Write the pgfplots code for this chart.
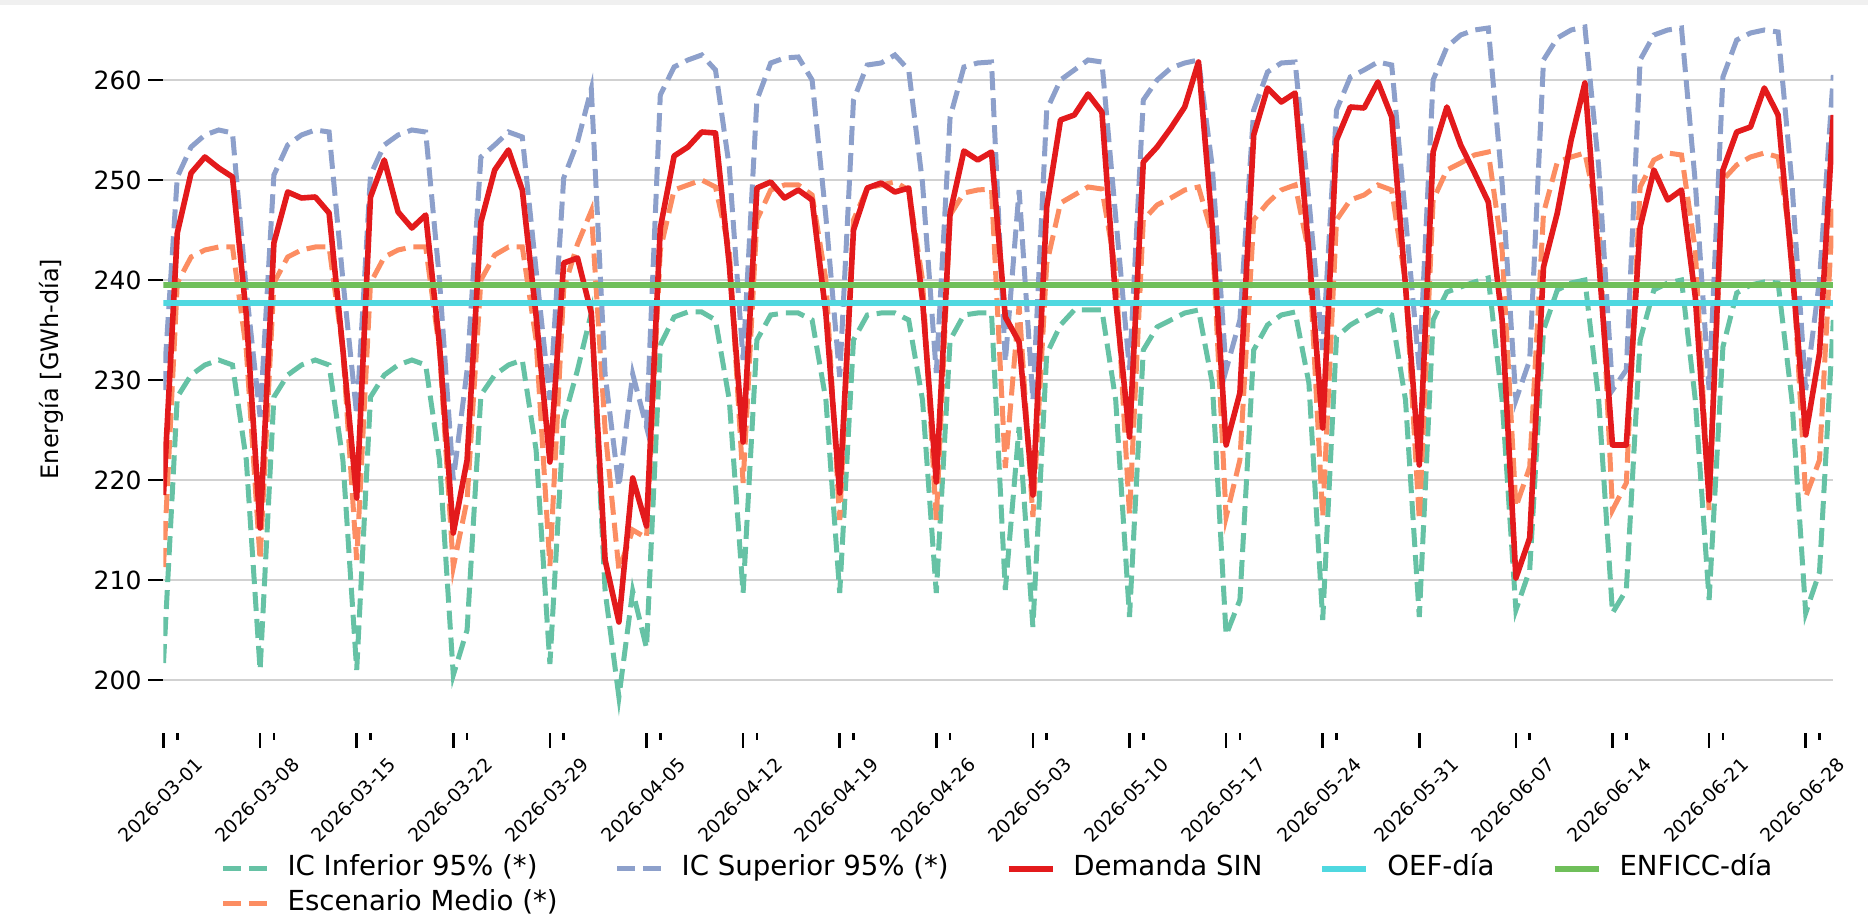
\documentclass[border=0pt]{standalone}
\usepackage{fontspec}
\setmainfont{DejaVu Sans}
\usepackage{pgfplots}
\usepackage{pgfplotstable}
\pgfplotsset{compat=1.18}

\definecolor{icinf}{HTML}{66C2A5}
\definecolor{medio}{HTML}{FC8D62}
\definecolor{icsup}{HTML}{8DA0CB}
\definecolor{demanda}{HTML}{E31A1C}
\definecolor{oef}{HTML}{4FD8E0}
\definecolor{enficc}{HTML}{6FBF5A}

% day = days since 2026-03-01
\pgfplotstableread{
day inf med sup dem
0 201.7 211.3 229.0 218.5
1 228.3 239.7 250.3 244.7
2 230.5 242.3 253.3 250.7
3 231.5 243.0 254.5 252.3
4 232.0 243.3 255.0 251.2
5 231.5 243.3 254.7 250.3
6 222.0 233.0 239.0 236.5
7 201.0 212.0 226.3 215.2
8 228.3 239.7 250.5 243.7
9 230.5 242.3 253.5 248.8
10 231.5 243.0 254.5 248.2
11 232.0 243.3 255.0 248.3
12 231.5 243.3 254.8 246.7
13 222.0 233.0 240.0 233.0
14 201.0 212.0 226.5 218.2
15 228.3 239.7 250.5 248.3
16 230.5 242.3 253.5 252.0
17 231.5 243.0 254.5 246.8
18 232.0 243.3 255.0 245.2
19 231.5 243.3 254.8 246.5
20 222.0 233.0 240.0 233.5
21 200.5 211.3 220.0 214.7
22 205.0 218.0 231.0 222.0
23 228.5 240.0 252.3 245.8
24 230.5 242.5 253.5 251.0
25 231.5 243.3 254.8 253.0
26 232.0 243.3 254.3 249.0
27 223.0 234.0 241.0 236.4
28 201.6 211.4 228.0 221.8
29 226.0 239.1 250.2 241.7
30 231.0 243.6 253.8 242.2
31 236.7 246.9 259.1 236.7
32 208.9 225.0 230.6 212.0
33 198.3 211.0 219.3 205.8
34 208.9 215.0 230.6 220.2
35 203.2 214.2 225.3 215.4
36 233.5 243.0 258.5 245.2
37 236.3 249.0 261.3 252.4
38 236.8 249.5 262.0 253.3
39 236.8 250.0 262.5 254.8
40 236.0 249.3 261.0 254.7
41 228.0 243.0 251.3 241.5
42 208.7 219.7 232.0 223.8
43 234.0 246.0 258.0 249.2
44 236.5 249.0 261.7 249.8
45 236.7 249.5 262.2 248.2
46 236.7 249.5 262.3 249.0
47 236.0 248.5 260.0 248.0
48 228.0 240.0 246.3 236.6
49 208.7 216.0 230.3 218.7
50 234.0 246.0 258.0 245.0
51 236.5 249.2 261.5 249.2
52 236.7 249.5 261.7 249.7
53 236.7 249.8 262.5 248.8
54 236.0 249.0 261.0 249.2
55 228.0 240.0 249.7 238.0
56 208.7 216.0 230.7 219.8
57 234.0 246.5 256.3 246.7
58 236.5 248.7 261.3 252.9
59 236.7 249.0 261.7 252.0
60 236.7 249.1 261.8 252.8
61 209.0 221.2 231.8 236.3
62 225.3 237.5 249.0 233.8
63 205.3 216.3 228.0 218.5
64 232.6 241.6 257.0 247.3
65 235.5 247.7 260.0 256.0
66 237.0 248.5 261.0 256.5
67 237.0 249.3 262.0 258.6
68 237.0 249.1 261.8 256.8
69 228.0 241.0 246.3 238.0
70 206.3 216.5 231.0 224.3
71 233.0 246.0 258.0 251.8
72 235.3 247.5 260.0 253.3
73 236.0 248.2 261.2 255.2
74 236.7 249.0 261.7 257.3
75 237.0 249.3 262.0 261.8
76 229.7 244.5 251.3 245.3
77 204.5 216.3 231.0 223.5
78 208.0 222.0 236.0 228.7
79 233.0 246.0 257.0 254.5
80 235.5 247.7 260.8 259.2
81 236.5 249.0 261.7 257.8
82 236.8 249.5 261.8 258.7
83 229.7 242.7 248.0 242.8
84 206.0 216.3 233.0 225.2
85 234.3 246.0 257.0 254.0
86 235.5 248.0 260.3 257.3
87 236.3 248.5 261.0 257.2
88 237.0 249.5 261.8 259.8
89 236.5 249.0 261.5 256.3
90 228.0 239.7 246.3 239.4
91 206.3 216.0 231.0 221.5
92 236.0 248.0 260.0 252.8
93 238.8 251.0 263.3 257.3
94 239.3 251.7 264.5 253.5
95 239.8 252.5 265.0 250.7
96 240.2 252.8 265.2 247.8
97 228.0 243.0 249.7 236.0
98 207.0 217.3 228.0 210.2
99 211.0 221.3 232.0 214.2
100 235.0 246.7 262.0 241.3
101 239.0 251.8 264.2 246.7
102 239.7 252.3 265.0 254.0
103 240.0 252.7 265.3 259.7
104 228.0 246.0 251.3 242.0
105 206.7 217.0 229.0 223.5
106 209.0 219.7 231.0 223.5
107 234.0 249.3 262.0 245.3
108 239.0 252.0 264.5 251.0
109 239.7 252.7 265.0 248.0
110 240.0 252.5 265.2 249.0
111 228.0 243.0 249.7 238.3
112 208.0 217.0 229.0 218.0
113 233.3 250.0 260.3 251.0
114 238.7 251.5 264.0 254.8
115 239.5 252.3 264.7 255.3
116 239.8 252.7 265.0 259.2
117 239.7 252.3 264.8 256.5
118 228.0 243.0 249.7 241.3
119 206.7 218.3 229.0 224.5
120 210.8 222.0 240.0 232.7
121 236.0 248.0 260.5 256.5
}\datos

\begin{document}
\begin{tikzpicture}
\begin{axis}[
  name=ax,
  scale only axis,
  width=834.9pt, height=364pt,
  xmin=0, xmax=121, ymin=194.7, ymax=267.5,
  axis x line*=bottom, axis y line*=left,
  axis line style={draw=none},
  tick align=outside,
  major tick length=7.5pt,
  minor tick length=3.5pt,
  every tick/.style={black, line width=1.3pt},
  xtick={0,7,...,119},
  minor xtick={1,8,15,22,29,36,43,50,57,64,71,78,85,99,106,113,120},
  xticklabels={2026-03-01,2026-03-08,2026-03-15,2026-03-22,2026-03-29,2026-04-05,
    2026-04-12,2026-04-19,2026-04-26,2026-05-03,2026-05-10,2026-05-17,2026-05-24,
    2026-05-31,2026-06-07,2026-06-14,2026-06-21,2026-06-28},
  xticklabel style={font=\fontsize{9.4pt}{11pt}\selectfont, anchor=center,
    xshift=-1.5pt, rotate=45},
  xticklabel shift=26pt,
  ytick={200,210,...,260},
  yticklabel style={font=\fontsize{12.5pt}{15pt}\selectfont},
  /pgf/number format/assume math mode=true,
  ymajorgrids,
  major grid style={draw=black!18, line width=0.75pt},
  ylabel={Energía [GWh-día]},
  every axis y label/.style={at={(axis description cs:-0.0671,0.5)}, rotate=90, anchor=center,
    font=\fontsize{12pt}{14pt}\selectfont},
  legend columns=5,
  legend cell align=left,
  legend style={draw=none, fill=none, at={(0.5,-0.157)}, anchor=north,
    font=\fontsize{13.8pt}{16pt}\selectfont,
    nodes={text height=10pt, text depth=3.2pt, inner sep=2pt},
    /tikz/every even column/.append style={column sep=26.5pt},
    /tikz/every odd column/.append style={column sep=7pt},
    row sep=0pt},
  legend image code/.code={\draw[#1] (0pt,0pt) -- (22pt,0pt);},
  dashed band/.style={line width=2.5pt, dash pattern=on 9.5pt off 4pt},
]
\addplot[icinf, dashed band, forget plot] table[x=day, y=inf] {\datos};
\addplot[medio, dashed band, forget plot] table[x=day, y=med] {\datos};
\addplot[icsup, dashed band, forget plot] table[x=day, y=sup] {\datos};
\addplot[demanda, line width=2.8pt, line join=round, forget plot] table[x=day, y=dem] {\datos};
\addplot[oef, line width=3pt, forget plot] coordinates {(0,237.7) (121,237.7)};
\addplot[enficc, line width=3pt, forget plot] coordinates {(0,239.5) (121,239.5)};

\addlegendimage{icinf, line width=2.5pt, dash pattern=on 9pt off 4pt}
\addlegendentry{IC Inferior 95\% (*)}
\addlegendimage{icsup, line width=2.5pt, dash pattern=on 9pt off 4pt}
\addlegendentry{IC Superior 95\% (*)}
\addlegendimage{demanda, line width=2.8pt}
\addlegendentry{Demanda SIN}
\addlegendimage{oef, line width=3pt}
\addlegendentry{OEF-día}
\addlegendimage{enficc, line width=3pt}
\addlegendentry{ENFICC-día}
\addlegendimage{medio, line width=2.5pt, dash pattern=on 9pt off 4pt}
\addlegendentry{Escenario Medio (*)}
\end{axis}
\pgfresetboundingbox
\path[use as bounding box] ([xshift=-81.75pt, yshift=2.5pt]ax.north west)
  rectangle ([xshift=17.35pt, yshift=-90.5pt]ax.south east);
\fill[black!6] ([xshift=-81.75pt, yshift=2.5pt]ax.north west)
  rectangle ([xshift=17.35pt]ax.north east);
\end{tikzpicture}
\end{document}
